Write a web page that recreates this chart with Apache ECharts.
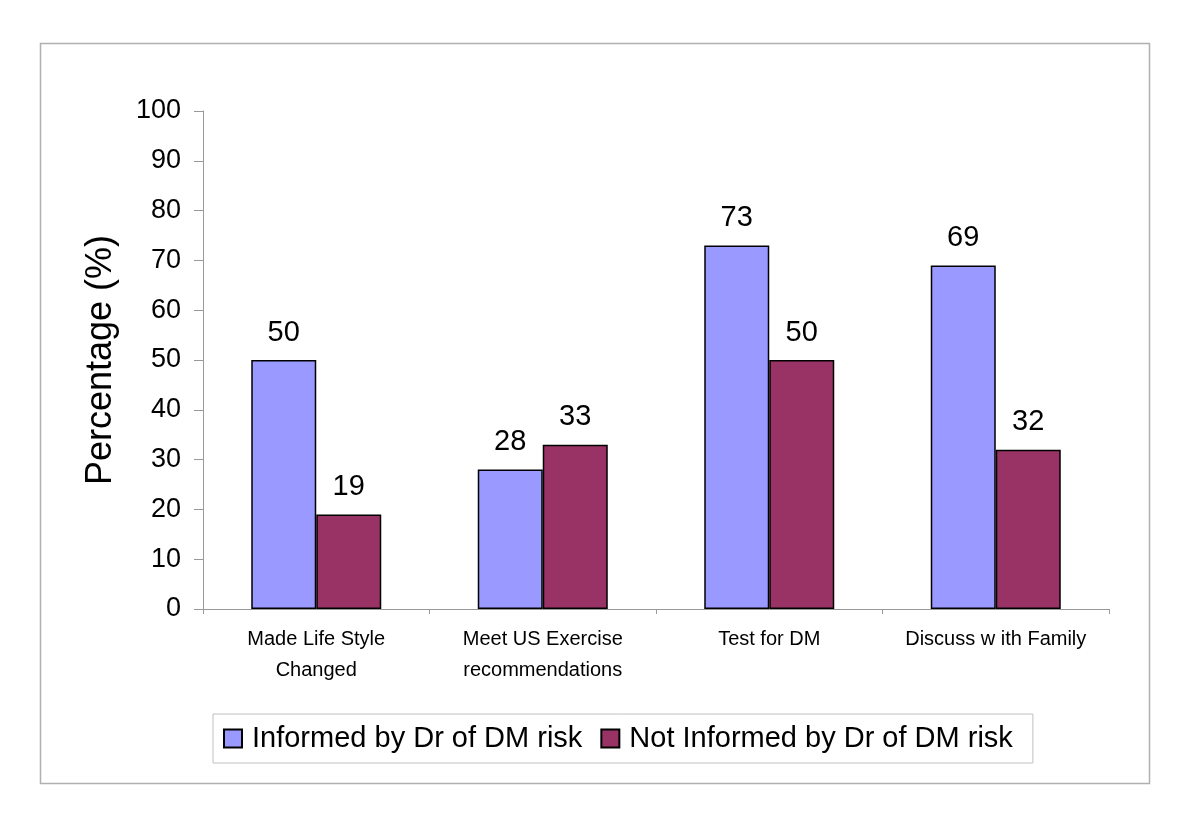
<!DOCTYPE html>
<html><head><meta charset="utf-8">
<script src="https://cdn.jsdelivr.net/npm/echarts@6/dist/echarts.min.js"></script>
<style>html,body{margin:0;padding:0;background:#fff}#c{width:1200px;height:837px}</style>
</head><body><div id="c"></div>
<script>
const categories = ["Made Life Style\nChanged", "Meet US Exercise\nrecommendations", "Test for DM", "Discuss w ith Family"];
const seriesNames = ["Informed by Dr of DM risk", "Not Informed by Dr of DM risk"];
const informed = [50, 28, 73, 69];
const notInformed = [19, 33, 50, 32];
const yTicks = [0, 10, 20, 30, 40, 50, 60, 70, 80, 90, 100];

const chart = echarts.init(document.getElementById('c'));
const font = 'Arial, "Liberation Sans", sans-serif';
const labelStyle = {show: true, position: 'top', distance: 13, fontSize: 29, color: '#000', fontFamily: font};
chart.setOption({
  animation: false,
  textStyle: {fontFamily: font},
  graphic: [{type: 'rect', shape: {x: 40.5, y: 43.5, width: 1109, height: 740},
    style: {fill: 'none', stroke: '#b0b0b0', lineWidth: 1.5}, z: -1}],
  grid: {left: 203, right: 91, top: 111, bottom: 228},
  legend: {
    left: 213, top: 714,
    padding: [10, 20, 10, 10],
    itemGap: 18, itemWidth: 18, itemHeight: 18, icon: 'rect',
    borderColor: '#c0c0c0', borderWidth: 1,
    textStyle: {fontSize: 29, color: '#000', fontFamily: font, padding: [0, 0, 0, 5]},
    data: seriesNames
  },
  xAxis: {
    type: 'category', data: categories,
    axisLine: {lineStyle: {color: '#999', width: 1}},
    axisTick: {show: true, length: 5, interval: 0, lineStyle: {color: '#999'}},
    axisLabel: {fontSize: 20, color: '#000', lineHeight: 31, margin: 15, interval: 0, fontFamily: font}
  },
  yAxis: {
    type: 'value', min: yTicks[0], max: yTicks[yTicks.length - 1], interval: 10,
    name: 'Percentage (%)', nameLocation: 'middle', nameGap: 84,
    nameTextStyle: {fontSize: 36, color: '#000', fontFamily: font},
    axisLine: {show: true, lineStyle: {color: '#999', width: 1}},
    axisTick: {show: true, length: 9, lineStyle: {color: '#999'}},
    splitLine: {show: false},
    axisLabel: {fontSize: 27, color: '#000', margin: 22, fontFamily: font}
  },
  series: [
    {name: seriesNames[0], type: 'bar', data: informed, barWidth: 65, barGap: '0%',
     itemStyle: {color: '#9999FF', borderColor: '#000', borderWidth: 1.5}, label: labelStyle},
    {name: seriesNames[1], type: 'bar', data: notInformed, barWidth: 65, barGap: '0%',
     itemStyle: {color: '#993366', borderColor: '#000', borderWidth: 1.5}, label: labelStyle}
  ]
});
</script></body></html>
